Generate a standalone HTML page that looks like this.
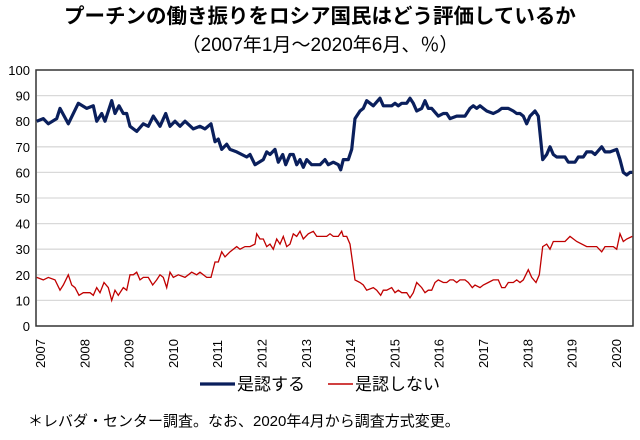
<!DOCTYPE html>
<html><head><meta charset="utf-8"><style>
body{margin:0;background:#fff;width:640px;height:435px;overflow:hidden;font-family:"Liberation Sans","Noto Sans CJK JP",sans-serif}
</style></head><body>
<svg width="640" height="435" xmlns="http://www.w3.org/2000/svg" font-family="Liberation Sans, Noto Sans CJK JP, sans-serif">
<text x="320" y="23" text-anchor="middle" font-size="20.5" font-weight="bold" fill="#000">プーチンの働き振りをロシア国民はどう評価しているか</text>
<text x="320" y="51" text-anchor="middle" font-size="19" fill="#000">（2007年1月～2020年6月、％）</text>
<g id="grid" stroke="#d9d9d9" stroke-width="1.3"></g>
<rect x="36" y="70" width="597" height="256" fill="none" stroke="#333" stroke-width="1.5"/>
<g id="yl" font-size="13" text-anchor="end" fill="#000"></g>
<g id="xl" font-size="13" fill="#000"></g>
<polyline id="red" fill="none" stroke="#c00000" stroke-width="1.3"/>
<polyline id="blue" fill="none" stroke="#0a1f5c" stroke-width="3.2" stroke-linejoin="round"/>
<line x1="200" y1="384" x2="235" y2="384" stroke="#0a1f5c" stroke-width="3.2"/>
<text x="237" y="390" font-size="17">是認する</text>
<line x1="328" y1="384" x2="353" y2="384" stroke="#c00000" stroke-width="1.5"/>
<text x="355" y="390" font-size="17">是認しない</text>
<text x="28" y="426" font-size="15">＊レバダ・センター調査。なお、2020年4月から調査方式変更。</text>
</svg>
<script>
var NS="http://www.w3.org/2000/svg";
function Y(v){return 326-v*2.56;}
var g=document.getElementById('grid'),yl=document.getElementById('yl'),xl=document.getElementById('xl');
for(var v=0;v<=100;v+=10){
 if(v>0&&v<100){var l=document.createElementNS(NS,'line');l.setAttribute('x1',37);l.setAttribute('x2',632);l.setAttribute('y1',Y(v));l.setAttribute('y2',Y(v));g.appendChild(l);}
 var t=document.createElementNS(NS,'text');t.setAttribute('x',30);t.setAttribute('y',Y(v)+5);t.textContent=v;yl.appendChild(t);}
for(var i=0;i<14;i++){var x=40+i*44.3;var t=document.createElementNS(NS,'text');t.setAttribute('transform','translate('+(x+5)+',368) rotate(-90)');t.textContent=2007+i;xl.appendChild(t);}
function pts(a,off){var s=[];for(var i=0;i<a.length;i+=2){var zx=a[i]+off;var px=zx/3;s.push(px.toFixed(1)+','+Y(a[i+1]).toFixed(1));}return s.join(' ');}
var b1=[110,80,130,81,145,79,170,81,180,85,205,79,235,87,260,85,280,86,290,80,305,83,315,80,335,88,345,83,357,86,370,83,380,83,390,78,410,76,430,79,445,78,460,82,480,78,497,83,510,78,525,80,540,78,555,80,580,77,600,78,615,77,633,79,645,72,655,73,665,69,680,71,690,69,710,68,740,66,750,67,765,63,790,65,800,68,810,67,825,69,835,64,848,67,857,63,870,67,880,67,890,63,900,65,910,62,920,65,935,63,950,63];
var b2=[0,63,15,65,25,63,40,64,55,63,62,61,70,65,85,65,95,69,105,81,120,84,130,85,140,88,160,86,180,89,190,86,215,86,225,87,235,86,245,87,260,87,270,89,280,87,290,84,305,85,315,88,325,85,335,85,355,82,370,83,380,83,390,81,410,82,425,82,435,82,450,85,460,86,470,85,480,86,490,85,500,84,520,83,535,84,545,85,565,85,580,84,590,83,600,83,610,82,620,79,630,82,645,84,655,82,668,65,680,67,690,70,700,67,710,66,725,66,735,66,745,64,765,64,775,66,790,66,800,68,815,68,825,67,845,70,855,68,870,68,890,69,900,65,910,60,920,59,930,60,937,60];
var r1=[110,19,130,18,145,19,165,18,180,14,190,16,205,20,215,16,225,15,237,12,250,13,270,13,280,12,290,15,300,13,312,17,325,15,335,10,345,14,355,12,370,15,380,14,390,20,400,20,410,21,420,18,430,19,445,19,458,16,470,18,480,20,490,19,500,15,510,21,520,19,535,20,555,19,575,21,590,20,600,21,620,19,633,19,645,25,655,25,665,29,675,27,690,29,710,31,720,30,735,31,750,31,765,32,770,36,780,34,790,34,800,31,810,32,820,30,830,34,840,32,850,35,860,31,870,32,880,36,890,35,900,37,910,34,925,36,940,37,950,35];
var r2=[20,35,30,36,40,35,55,35,65,37,70,35,80,35,90,32,105,18,120,17,130,16,140,14,160,15,170,14,182,12,190,14,200,14,215,15,225,13,235,14,245,13,260,13,270,11,280,13,290,17,305,15,315,13,325,14,335,14,345,17,355,18,370,17,380,17,390,18,400,18,410,17,420,18,435,18,445,17,457,15,465,16,480,15,490,16,505,17,520,18,535,18,545,15,555,15,565,17,580,17,590,18,600,17,610,18,625,22,635,19,648,17,658,20,668,31,680,32,690,30,700,33,735,33,750,35,770,33,800,31,830,31,845,29,855,31,880,31,890,30,900,36,910,33,920,34,937,35];
document.getElementById('blue').setAttribute('points',pts(b1,0)+' '+pts(b2,960));
document.getElementById('red').setAttribute('points',pts(r1,0)+' '+pts(r2,960));
</script>
</body></html>
